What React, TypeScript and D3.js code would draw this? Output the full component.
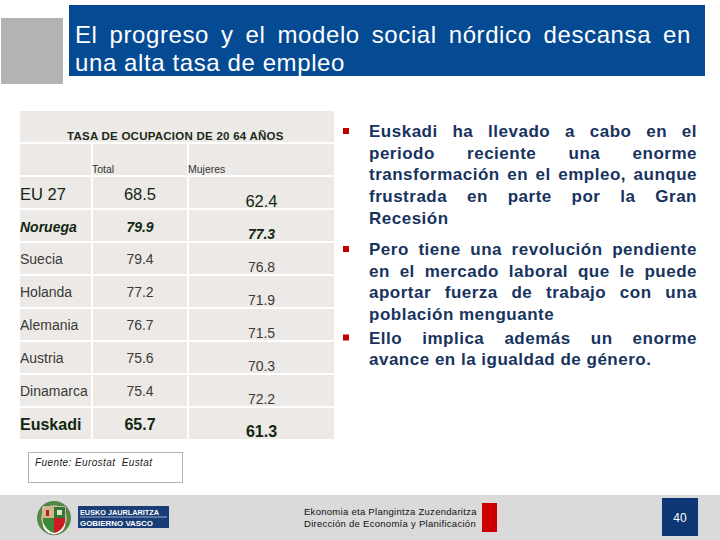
import React from "react";
import * as d3 from "d3";

const FONT = "'Liberation Sans', Arial, Helvetica, sans-serif";

const titleLines = ["El progreso y el modelo social nórdico descansa en", "una alta tasa de empleo"];
const tableTitle = "TASA DE OCUPACION DE 20 64 AÑOS";
const columnHeaders = ["Total", "Mujeres"];
const countries = ["EU 27", "Noruega", "Suecia", "Holanda", "Alemania", "Austria", "Dinamarca", "Euskadi"];
const totalValues = [68.5, 79.9, 79.4, 77.2, 76.7, 75.6, 75.4, 65.7];
const womenValues = [62.4, 77.3, 76.8, 71.9, 71.5, 70.3, 72.2, 61.3];
const bullet1 = [
  "Euskadi ha llevado a cabo en el",
  "periodo reciente una enorme",
  "transformación en el empleo, aunque",
  "frustrada en parte por la Gran",
  "Recesión",
];
const bullet2 = [
  "Pero tiene una revolución pendiente",
  "en el mercado laboral que le puede",
  "aportar fuerza de trabajo con una",
  "población menguante",
];
const bullet3 = ["Ello implica además un enorme", "avance en la igualdad de género."];
const sourceNote = "Fuente: Eurostat  Eustat";
const footerLines = ["Ekonomia eta Plangintza Zuzendaritza", "Dirección de Economía y Planificación"];
const logoLines = ["EUSKO JAURLARITZA", "GOBIERNO VASCO"];
const pageNumber = "40";

let _ctx: CanvasRenderingContext2D | null = null;
function textWidth(t: string, font: string, ls = 0) {
  if (!_ctx) _ctx = document.createElement("canvas").getContext("2d");
  _ctx!.font = font;
  return _ctx!.measureText(t).width + ls * t.length;
}

function JText(props: {
  text: string; x: number; y: number; width: number; size: number;
  weight?: string; italic?: boolean; ls?: number; fill: string; justify: boolean;
}) {
  const { text, x, y, width, size, weight = "normal", italic = false, ls = 0, fill, justify } = props;
  const common = {
    fontFamily: FONT, fontSize: size, fontWeight: weight,
    fontStyle: italic ? "italic" : "normal", letterSpacing: ls, fill,
  };
  if (!justify) return <text x={x} y={y} {...common}>{text}</text>;
  const fontStr = `${italic ? "italic " : ""}${weight} ${size}px ${FONT}`;
  const words = text.split(" ").filter((w) => w.length);
  const ww = words.map((w) => textWidth(w, fontStr, ls));
  const gap = (width - d3.sum(ww)) / Math.max(1, words.length - 1);
  let cx = x;
  const xs = ww.map((w) => { const p = cx; cx += w + gap; return p; });
  return (
    <text y={y} {...common}>
      {words.map((w, i) => <tspan key={i} x={xs[i]}>{w}</tspan>)}
    </text>
  );
}

const DARK = "#112611";
const GRAY = "#3a3a3a";

function rowStyle(c: string) {
  if (c === "EU 27") return { size: 16.5, weight: "normal", italic: false, fill: DARK, lb: 23, wb: 30 };
  if (c === "Noruega") return { size: 14, weight: "bold", italic: true, fill: DARK, lb: 22, wb: 29 };
  if (c === "Euskadi") return { size: 16, weight: "bold", italic: false, fill: DARK, lb: 22, wb: 29 };
  return { size: 14, weight: "normal", italic: false, fill: GRAY, lb: 21, wb: 29 };
}

function Bullets({ lines, y0 }: { lines: string[]; y0: number }) {
  const lh = 21.7;
  return (
    <g>
      <rect x={343} y={y0 - 9} width={6} height={6} fill="#c00000" />
      {lines.map((l, i) => (
        <JText key={i} text={l} x={369} y={y0 + i * lh} width={328} size={17} weight="bold"
          ls={0.5} fill="#17335e" justify={i < lines.length - 1} />
      ))}
    </g>
  );
}

export default function App() {
  const rowScale = d3.scaleBand<string>().domain(countries).range([177, 177 + 33 * countries.length]);
  const cols: [number, number][] = [[20, 91], [93, 187], [189, 334]];
  const fmt = d3.format(".1f");

  return (
    <div style={{ position: "absolute", left: 0, top: 0 }}>
      <svg width={720} height={540} style={{ display: "block", background: "#fff" }}>
        {/* header */}
        <rect x={1} y={18} width={62} height={66} fill="#b3b3b3" />
        <rect x={69} y={5} width={636} height={71} fill="#054b94" />
        <JText text={titleLines[0]} x={75} y={43} width={616} size={24} ls={0.6} fill="#fff" justify />
        <JText text={titleLines[1]} x={75} y={71} width={270} size={24} ls={0.6} fill="#fff" justify={false} />

        {/* table */}
        <rect x={20} y={111} width={314} height={31} fill="#ece9e6" />
        <text x={67} y={140} fontFamily={FONT} fontSize={11.5} fontWeight="bold" letterSpacing={0.25} fill="#1a2a1a">
          {tableTitle}
        </text>
        {cols.map((c, j) => (
          <rect key={"h" + j} x={c[0]} y={144} width={c[1] - c[0]} height={31} fill="#ece9e6" />
        ))}
        {columnHeaders.map((h, j) => (
          <text key={h} x={cols[j + 1][0] - 1} y={173} fontFamily={FONT} fontSize={10.5} fill="#333">{h}</text>
        ))}
        {countries.map((c, i) => {
          const y = rowScale(c)!;
          const s = rowStyle(c);
          const tprops = {
            fontFamily: FONT, fontSize: s.size, fontWeight: s.weight,
            fontStyle: s.italic ? "italic" : "normal", fill: s.fill,
          };
          return (
            <g key={c}>
              {cols.map((col, j) => (
                <rect key={j} x={col[0]} y={y} width={col[1] - col[0]} height={rowScale.bandwidth() - 2} fill="#ece9e6" />
              ))}
              <text x={20} y={y + s.lb} {...tprops}>{c}</text>
              <text x={(cols[1][0] + cols[1][1]) / 2} y={y + s.lb} textAnchor="middle" {...tprops}>{fmt(totalValues[i])}</text>
              <text x={(cols[2][0] + cols[2][1]) / 2} y={y + s.wb} textAnchor="middle" {...tprops}>{fmt(womenValues[i])}</text>
            </g>
          );
        })}

        {/* bullets */}
        <Bullets lines={bullet1} y0={137} />
        <Bullets lines={bullet2} y0={255} />
        <Bullets lines={bullet3} y0={343.5} />

        {/* source */}
        <rect x={28.5} y={452.5} width={154} height={30} fill="#fff" stroke="#b4b4b4" />
        <text x={35} y={466} fontFamily={FONT} fontSize={10} fontStyle="italic" letterSpacing={0.4} fill="#222" style={{ whiteSpace: "pre" }}>
          {sourceNote}
        </text>

        {/* footer */}
        <rect x={0} y={495} width={720} height={45} fill="#dadada" />
        <g>
          <circle cx={54} cy={518} r={17} fill="#4f8a45" />
          <circle cx={54} cy={518} r={13} fill="#e8d9b8" />
          <path d="M42,506 H66 V522 Q66,533 54,535 Q42,533 42,522 Z" fill="#fff" stroke="#6b5a3a" strokeWidth={0.8} />
          <rect x={43} y={507} width={11} height={11} fill="#d8b48a" />
          <rect x={46} y={510} width={3} height={6} fill="#b02020" />
          <rect x={54} y={507} width={11} height={11} fill="#2f7a3a" />
          <rect x={57} y={510} width={5} height={5} fill="#e8e0c0" />
          <path d="M43,518 H54 V533 Q46,531 43,522 Z" fill="#3a8a3a" />
          <path d="M54,518 H65 V522 Q63,531 54,533 Z" fill="#cc1a20" />
        </g>
        <rect x={78} y={506} width={91} height={22} fill="#1b3d77" />
        <line x1={80} x2={167} y1={517} y2={517} stroke="#fff" strokeWidth={0.6} />
        <text x={80} y={515} fontFamily={FONT} fontSize={7} fontWeight="bold" fill="#fff" textLength={79} lengthAdjust="spacingAndGlyphs">{logoLines[0]}</text>
        <text x={80} y={526} fontFamily={FONT} fontSize={7} fontWeight="bold" fill="#fff" textLength={73} lengthAdjust="spacingAndGlyphs">{logoLines[1]}</text>

        {footerLines.map((l, i) => (
          <text key={i} x={304} y={515 + i * 12} fontFamily={FONT} fontSize={9.5} letterSpacing={0.28} fill="#111">{l}</text>
        ))}
        <rect x={482} y={503} width={15} height={29} fill="#cc0000" />
        <rect x={662} y={498} width={36} height={38} fill="#0d3674" />
        <text x={680} y={522} textAnchor="middle" fontFamily={FONT} fontSize={12} fill="#fff">{pageNumber}</text>
      </svg>
    </div>
  );
}
